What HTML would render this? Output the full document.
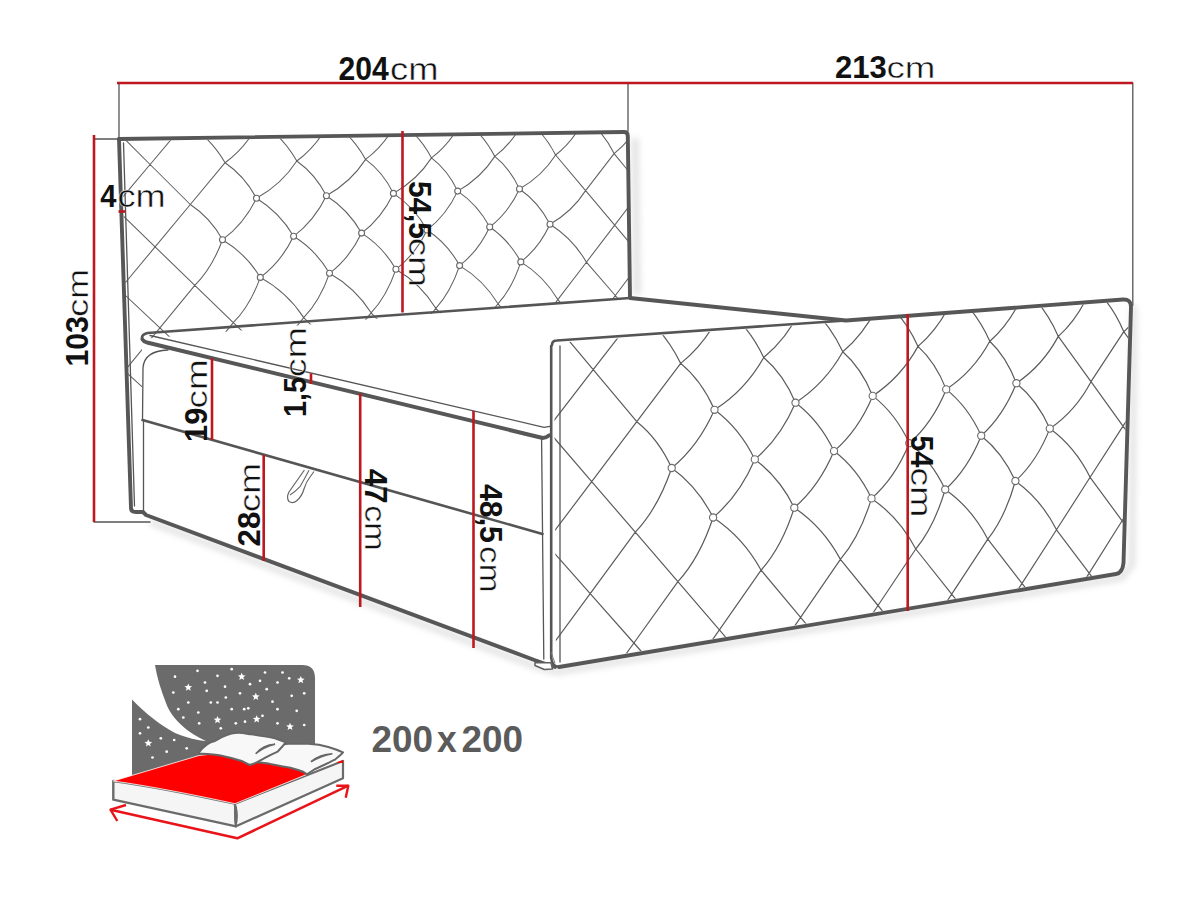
<!DOCTYPE html>
<html><head><meta charset="utf-8"><title>Bed dimensions</title>
<style>html,body{margin:0;padding:0;background:#fff;width:1200px;height:899px;overflow:hidden}svg{display:block}text{font-family:"Liberation Sans",sans-serif}</style>
</head><body>
<svg width="1200" height="899" viewBox="0 0 1200 899">
<defs>
<clipPath id="ch"><path d="M122 141L627 133L629 297L142 339L142 522L131 522Z"/></clipPath>
<clipPath id="cf"><path d="M554 343L846 322L1129 301L1121.5 571L556 665Z"/></clipPath>
<filter id="sh" x="-10%" y="-10%" width="120%" height="130%"><feGaussianBlur stdDeviation="3"/></filter>
</defs>
<rect width="1200" height="899" fill="#fff"/>
<g opacity="0.25" filter="url(#sh)" fill="none" stroke="#888" stroke-width="6">
<path d="M150 522L537 667L557 672L1121 578L1132 565L1134 305"/>
<path d="M635 138L637 294" stroke-width="7"/>
</g>
<g clip-path="url(#ch)"><path d="M28.1 124L71.8 166.3M28.1 124L65.9 80.4M34.4 210L77.6 250.6M34.4 210L71.8 166.3M40.6 294.5L83.3 333.3M40.6 294.5L77.6 250.6M46.7 377.3L88.9 414.5M46.7 377.3L83.3 333.3M65.9 80.4L108.7 123.1M65.9 80.4L103.2 37.3M71.8 166.3L114.1 207.2M71.8 166.3L108.7 123.1M77.6 250.6L119.4 289.8M77.6 250.6L114.1 207.2M83.3 333.3L124.6 370.9M83.3 333.3L119.4 289.8M88.9 414.5L129.7 450.5M88.9 414.5L124.6 370.9M108.7 123.1L150.1 164.5M108.7 123.1L145.1 80.5M114.1 207.2L155.1 246.9M114.1 207.2L150.1 164.5M119.4 289.8L159.9 327.8M119.4 289.8L155.1 246.9M124.6 370.9L164.7 407.3M124.6 370.9L159.9 327.8M145.1 80.5L185.7 122.2M145.1 80.5L181 38.4M150.1 164.5L190.3 204.5M150.1 164.5L185.7 122.2M155.1 246.9L194.8 285.3M155.1 246.9L190.3 204.5M159.9 327.8L199.2 364.7M159.9 327.8L194.8 285.3M164.7 407.3L203.6 442.7M164.7 407.3L199.2 364.7M185.7 122.2Q210.3 137.4 225.1 162.7M185.7 122.2L220.8 80.5M190.3 204.5Q210.4 217.7 222.5 239.7M190.3 204.5L225.1 162.7M194.8 285.3L233.3 322.6M194.8 285.3Q212.1 268.2 222.5 239.7M199.2 364.7L237.4 400.5M199.2 364.7L233.3 322.6M220.8 80.5L259.4 121.4M220.8 80.5L255.5 39.4M225.1 162.7Q244.7 176 256.5 198.3M225.1 162.7Q246.5 147.2 259.4 121.4M222.5 239.7Q246.1 253.8 260.3 277.4M222.5 239.7Q243.8 224.1 256.5 198.3M233.3 322.6L270.7 358.8M233.3 322.6Q250.2 305.7 260.3 277.4M237.4 400.5L274.3 435.2M237.4 400.5L270.7 358.8M259.4 121.4Q282.8 136.3 296.8 161M259.4 121.4L293.3 80.6M256.5 198.3Q279.7 212.5 293.6 236.3M256.5 198.3Q281.7 184.3 296.8 161M260.3 277.4Q287.4 292.5 303.7 317.6M260.3 277.4Q281.1 262 293.6 236.3M270.7 358.8L307 393.9M270.7 358.8L303.7 317.6M293.3 80.6L330 120.6M293.3 80.6L326.8 40.3M296.8 161Q315.3 174.1 326.4 195.8M296.8 161Q317.5 145.9 330 120.6M293.6 236.3Q316 250.2 329.5 273.3M293.6 236.3Q314.1 221.1 326.4 195.8M303.7 317.6L339.2 353.1M303.7 317.6Q319.8 301 329.5 273.3M307 393.9L342.2 428M307 393.9L339.2 353.1M330 120.6Q352.2 135.2 365.6 159.4M330 120.6L362.7 80.7M326.4 195.8Q348.4 209.8 361.6 233.1M326.4 195.8Q350.9 182.1 365.6 159.4M329.5 273.3Q355.5 288.1 371.1 312.8M329.5 273.3Q349.6 258.2 361.6 233.1M339.2 353.1L373.8 387.6M339.2 353.1L371.1 312.8M362.7 80.7L397.6 119.9M362.7 80.7L395.1 41.3M365.6 159.4Q383 172.2 393.4 193.4M365.6 159.4Q385.6 144.6 397.6 119.9M361.6 233.1Q383 246.7 395.9 269.3M361.6 233.1Q381.5 218.2 393.4 193.4M371.1 312.8L405 347.7M371.1 312.8Q386.6 296.5 395.9 269.3M373.8 387.6L407.3 421.1M373.8 387.6L405 347.7M397.6 119.9Q418.8 134.1 431.5 157.9M397.6 119.9L429.3 80.8M393.4 193.4Q414.4 207.1 427 230M393.4 193.4Q417.2 180.1 431.5 157.9M395.9 269.3Q420.8 283.9 435.8 308.3M395.9 269.3Q415.3 254.6 427 230M405 347.7L437.9 381.6M405 347.7L435.8 308.3M429.3 80.8L462.5 119.1M429.3 80.8L460.6 42.1M431.5 157.9Q447.9 170.4 457.7 191.1M431.5 157.9Q450.9 143.4 462.5 119.1M427 230Q447.4 243.3 459.6 265.6M427 230Q446.2 215.4 457.7 191.1M435.8 308.3L468.1 342.5M435.8 308.3Q450.7 292.2 459.6 265.6M437.9 381.6L469.9 414.5M437.9 381.6L468.1 342.5M462.5 119.1Q482.7 133.1 494.8 156.4M462.5 119.1L493.2 80.8M457.7 191.1Q477.7 204.6 489.7 227M457.7 191.1Q480.9 178.1 494.8 156.4M459.6 265.6Q483.6 279.9 498 303.8M459.6 265.6Q478.4 251.1 489.7 227M468.1 342.5L499.5 375.8M468.1 342.5L498 303.8M493.2 80.8L524.8 118.4M493.2 80.8L523.5 43M494.8 156.4Q510.2 168.6 519.5 189M494.8 156.4Q513.6 142.2 524.8 118.4M489.7 227Q509.1 240.1 520.8 261.9M489.7 227Q508.3 212.8 519.5 189M498 303.8L528.8 337.5M498 303.8Q512.3 288.1 520.8 261.9M499.5 375.8L530.1 408.1M499.5 375.8L528.8 337.5M524.8 118.4Q544.1 132.2 555.6 155M524.8 118.4L554.5 80.9M519.5 189Q538.6 202.2 550 224.2M519.5 189Q542.1 176.2 555.6 155M520.8 261.9Q543.9 276.1 557.8 299.6M520.8 261.9Q539.1 247.8 550 224.2M528.8 337.5L558.8 370.2M528.8 337.5L557.8 299.6M554.5 80.9L584.7 117.8M554.5 80.9L583.9 43.8M555.6 155L585.6 190.6M555.6 155Q573.8 141 584.7 117.8M550 224.2Q572.7 238.4 586.4 262.2M550 224.2Q572.2 211.6 585.6 190.6M557.8 299.6L587.2 332.6M557.8 299.6L586.4 262.2M558.8 370.2L588 402M558.8 370.2L587.2 332.6M584.7 117.8Q603.1 131.2 614.1 153.6M584.7 117.8L613.5 81M585.6 190.6L614.7 225.1M585.6 190.6L614.1 153.6M586.4 262.2L615.3 295.5M586.4 262.2L614.7 225.1M587.2 332.6L615.8 364.8M587.2 332.6L615.3 295.5M613.5 81L642.3 117.1M613.5 81L641.9 44.6M614.1 153.6L642.7 188.5M614.1 153.6Q631.7 139.9 642.3 117.1M614.7 225.1L643 258.8M614.7 225.1L642.7 188.5M615.3 295.5L643.4 328M615.3 295.5L643 258.8M615.8 364.8L643.7 396.1M615.8 364.8L643.4 328M642.3 117.1L670.4 152.3M642.3 117.1L670.2 81M642.7 188.5L670.5 222.5M642.7 188.5L670.4 152.3M643 258.8L670.6 291.6M643 258.8L670.5 222.5M643.4 328L670.8 359.6M643.4 328L670.6 291.6M670.2 81L697.7 116.5M670.2 81L697.8 45.3M670.4 152.3L697.7 186.6M670.4 152.3L697.7 116.5M670.5 222.5L697.6 255.6M670.5 222.5L697.7 186.6M670.6 291.6L697.5 323.5M670.6 291.6L697.6 255.6M670.8 359.6L697.5 390.4M670.8 359.6L697.5 323.5M697.7 116.5L724.5 151.1M697.7 116.5L724.8 81.1M697.7 186.6L724.3 220M697.7 186.6L724.5 151.1M697.6 255.6L724 287.8M697.6 255.6L724.3 220M697.5 323.5L723.7 354.6M697.5 323.5L724 287.8" fill="none" stroke="#606060" stroke-width="1.05"/></g>
<g clip-path="url(#cf)"><path d="M454 321.6L501.1 376.3M454 321.6L502.8 261.6M452.3 438L499.4 491.2M452.3 438L501.1 376.3M450.5 554.6L497.8 606.4M450.5 554.6L499.4 491.2M448.8 671.4L496.1 721.7M448.8 671.4L497.8 606.4M447.1 788.5L494.4 837.3M447.1 788.5L496.1 721.7M502.8 261.6L548.6 316.4M502.8 261.6L550.2 203.3M501.1 376.3L547 429.6M501.1 376.3L548.6 316.4M499.4 491.2L545.4 543.1M499.4 491.2L547 429.6M497.8 606.4L543.8 656.8M497.8 606.4L545.4 543.1M496.1 721.7L542.2 770.8M496.1 721.7L543.8 656.8M548.6 316.4L593.2 369.7M548.6 316.4L594.8 258M547 429.6L591.7 481.6M547 429.6L593.2 369.7M545.4 543.1L590.2 593.7M545.4 543.1L591.7 481.6M543.8 656.8L588.7 706M543.8 656.8L590.2 593.7M542.2 770.8L587.1 818.5M542.2 770.8L588.7 706M594.8 258L638.3 311.4M594.8 258L639.7 201.3M593.2 369.7L636.8 421.7M593.2 369.7L638.3 311.4M591.7 481.6L635.3 532.2M591.7 481.6L636.8 421.7M590.2 593.7L633.9 643M590.2 593.7L635.3 532.2M588.7 706L632.4 754M588.7 706L633.9 643M638.3 311.4Q664.8 330.9 680.7 363.4M638.3 311.4L682.1 254.6M636.8 421.7Q658.6 439.1 671.7 468M636.8 421.7L680.7 363.4M635.3 532.2L677.9 581.7M635.3 532.2Q658 508.2 671.7 468M633.9 643L676.4 691.1M633.9 643L677.9 581.7M632.4 754L675 800.7M632.4 754L676.4 691.1M682.1 254.6L723.4 306.7M682.1 254.6L724.8 199.3M680.7 363.4Q701.8 380.8 714.5 409.8M680.7 363.4Q707.4 342.1 723.4 306.7M671.7 468Q697.6 486.6 713.1 517.5M671.7 468Q698.4 446.2 714.5 409.8M677.9 581.7L719.4 629.9M677.9 581.7Q699.9 557.6 713.1 517.5M676.4 691.1L718 738M676.4 691.1L719.4 629.9M723.4 306.7Q748.6 325.7 763.7 357.5M723.4 306.7L765 251.4M714.5 409.8Q739.7 428.4 754.8 459.4M714.5 409.8Q745.3 390.2 763.7 357.5M713.1 517.5Q743.1 537.3 761.1 570.2M713.1 517.5Q739.2 495.7 754.8 459.4M719.4 629.9L759.8 676.9M719.4 629.9L761.1 570.2M718 738L758.5 783.8M718 738L759.8 676.9M765 251.4L804.4 302.2M765 251.4L805.6 197.5M763.7 357.5Q783.6 374.4 795.5 402.7M763.7 357.5Q789.1 336.7 804.4 302.2M754.8 459.4Q779.5 477.5 794.3 507.7M754.8 459.4Q780.3 438.1 795.5 402.7M761.1 570.2L800.6 617.4M761.1 570.2Q781.9 546.8 794.3 507.7M759.8 676.9L799.4 722.9M759.8 676.9L800.6 617.4M804.4 302.2Q828.4 320.8 842.8 351.8M804.4 302.2L844 248.3M795.5 402.7Q819.6 420.8 834 451.1M795.5 402.7Q825 383.6 842.8 351.8M794.3 507.7Q823.1 527.1 840.4 559.4M794.3 507.7Q819.1 486.5 834 451.1M800.6 617.4L839.2 663.5M800.6 617.4L840.4 559.4M799.4 722.9L838 767.7M799.4 722.9L839.2 663.5M844 248.3L881.4 297.9M844 248.3L882.6 195.8M842.8 351.8Q861.5 368.3 872.7 395.9M842.8 351.8Q866.9 331.6 881.4 297.9M834 451.1Q857.4 468.8 871.5 498.4M834 451.1Q858.2 430.4 872.7 395.9M840.4 559.4L878 605.5M840.4 559.4Q859.9 536.5 871.5 498.4M839.2 663.5L876.8 708.4M839.2 663.5L878 605.5M881.4 297.9Q904.3 316.1 918 346.4M881.4 297.9L919.1 245.4M872.7 395.9Q895.6 413.6 909.3 443.2M872.7 395.9Q901 377.3 918 346.4M871.5 498.4Q899.2 517.4 915.8 549M871.5 498.4Q895.2 477.7 909.3 443.2M878 605.5L914.7 650.6M878 605.5L915.8 549M876.8 708.4L913.6 752.4M876.8 708.4L914.7 650.6M919.1 245.4L954.9 293.9M919.1 245.4L955.9 194.1M918 346.4Q935.7 362.5 946.2 389.4M918 346.4Q941.1 326.7 954.9 293.9M909.3 443.2Q931.7 460.6 945.2 489.5M909.3 443.2Q932.4 423 946.2 389.4M915.8 549L951.7 594.2M915.8 549Q934.2 526.7 945.2 489.5M914.7 650.6L950.6 694.7M914.7 650.6L951.7 594.2M954.9 293.9Q976.7 311.6 989.8 341.3M954.9 293.9L990.8 242.6M946.2 389.4Q968.1 406.8 981.2 435.7M946.2 389.4Q973.5 371.4 989.8 341.3M945.2 489.5Q971.8 508.1 987.8 539.2M945.2 489.5Q967.7 469.4 981.2 435.7M951.7 594.2L986.8 638.4M951.7 594.2L987.8 539.2M950.6 694.7L985.8 737.8M950.6 694.7L986.8 638.4M990.8 242.6L1025 290M990.8 242.6L1025.9 192.5M989.8 341.3Q1006.4 357 1016.4 383.2M989.8 341.3Q1011.8 322 1025 290M981.2 435.7Q1002.6 452.7 1015.4 481M981.2 435.7Q1003.2 416 1016.4 383.2M987.8 539.2L1022 583.4M987.8 539.2Q1005.1 517.4 1015.4 481M986.8 638.4L1021.1 681.6M986.8 638.4L1022 583.4M1025 290Q1045.8 307.4 1058.3 336.4M1025 290L1059.3 239.9M1016.4 383.2Q1037.3 400.2 1049.8 428.6M1016.4 383.2Q1042.6 365.6 1058.3 336.4M1015.4 481Q1041.1 499.3 1056.5 529.8M1015.4 481Q1036.9 461.4 1049.8 428.6M1022 583.4L1055.5 626.7M1022 583.4L1056.5 529.8M1021.1 681.6L1054.6 723.8M1021.1 681.6L1055.5 626.7M1059.3 239.9L1091.9 286.3M1059.3 239.9L1092.8 191M1058.3 336.4L1091 381.7M1058.3 336.4Q1079.3 317.6 1091.9 286.3M1049.8 428.6Q1075 446.9 1090.1 477.3M1049.8 428.6Q1075.6 411 1091 381.7M1056.5 529.8L1089.2 573.1M1056.5 529.8L1090.1 477.3M1055.5 626.7L1088.3 669M1055.5 626.7L1089.2 573.1M1091.9 286.3Q1111.8 303.3 1123.8 331.7M1091.9 286.3L1124.7 237.3M1091 381.7L1123 426.1M1091 381.7L1123.8 331.7M1090.1 477.3L1122.1 520.8M1090.1 477.3L1123 426.1M1089.2 573.1L1121.2 615.5M1089.2 573.1L1122.1 520.8M1088.3 669L1120.4 710.5M1088.3 669L1121.2 615.5M1124.7 237.3L1155.9 282.7M1124.7 237.3L1156.7 189.5M1123.8 331.7L1155.1 376.1M1123.8 331.7Q1143.9 313.3 1155.9 282.7M1123 426.1L1154.3 469.6M1123 426.1L1155.1 376.1M1122.1 520.8L1153.4 563.3M1122.1 520.8L1154.3 469.6M1121.2 615.5L1152.6 657.1M1121.2 615.5L1153.4 563.3M1155.9 282.7L1186.5 327.2M1155.9 282.7L1187.3 234.9M1155.1 376.1L1185.7 419.6M1155.1 376.1L1186.5 327.2M1154.3 469.6L1184.9 512.2M1154.3 469.6L1185.7 419.6M1153.4 563.3L1184.1 604.9M1153.4 563.3L1184.9 512.2M1152.6 657.1L1183.3 697.7M1152.6 657.1L1184.1 604.9M1187.3 234.9L1217.2 279.3M1187.3 234.9L1217.9 188.1M1186.5 327.2L1216.4 370.7M1186.5 327.2L1217.2 279.3M1185.7 419.6L1215.6 462.2M1185.7 419.6L1216.4 370.7M1184.9 512.2L1214.9 553.8M1184.9 512.2L1215.6 462.2M1184.1 604.9L1214.1 645.6M1184.1 604.9L1214.9 553.8M1217.2 279.3L1246.4 322.9M1217.2 279.3L1247.2 232.6M1216.4 370.7L1245.7 413.3M1216.4 370.7L1246.4 322.9M1215.6 462.2L1245 503.9M1215.6 462.2L1245.7 413.3M1214.9 553.8L1244.3 594.7M1214.9 553.8L1245 503.9M1214.1 645.6L1243.5 685.5M1214.1 645.6L1244.3 594.7" fill="none" stroke="#5c5c5c" stroke-width="1.2"/></g>
<g fill="#fff" stroke="#6a6a6a" stroke-width="1.1"><circle cx="519.5" cy="189" r="3.0"/><circle cx="361.6" cy="233.1" r="3.0"/><circle cx="393.4" cy="193.4" r="3.0"/><circle cx="459.6" cy="265.6" r="3.0"/><circle cx="256.5" cy="198.3" r="3.0"/><circle cx="520.8" cy="261.9" r="3.0"/><circle cx="326.4" cy="195.8" r="3.0"/><circle cx="293.6" cy="236.3" r="3.0"/><circle cx="395.9" cy="269.3" r="3.0"/><circle cx="260.3" cy="277.4" r="3.0"/><circle cx="550" cy="224.2" r="3.0"/><circle cx="222.5" cy="239.7" r="3.0"/><circle cx="329.5" cy="273.3" r="3.0"/><circle cx="427" cy="230" r="3.0"/><circle cx="457.7" cy="191.1" r="3.0"/><circle cx="489.7" cy="227" r="3.0"/><circle cx="1016.4" cy="383.2" r="3.6"/><circle cx="834" cy="451.1" r="3.6"/><circle cx="872.7" cy="395.9" r="3.6"/><circle cx="945.2" cy="489.5" r="3.6"/><circle cx="714.5" cy="409.8" r="3.6"/><circle cx="1015.4" cy="481" r="3.6"/><circle cx="795.5" cy="402.7" r="3.6"/><circle cx="754.8" cy="459.4" r="3.6"/><circle cx="871.5" cy="498.4" r="3.6"/><circle cx="713.1" cy="517.5" r="3.6"/><circle cx="1049.8" cy="428.6" r="3.6"/><circle cx="671.7" cy="468" r="3.6"/><circle cx="794.3" cy="507.7" r="3.6"/><circle cx="909.3" cy="443.2" r="3.6"/><circle cx="946.2" cy="389.4" r="3.6"/><circle cx="981.2" cy="435.7" r="3.6"/></g>
<g fill="none" stroke="#555" stroke-width="1.3" stroke-linecap="round"><path d="M119 83L119 139"/><path d="M94 139L119 139"/><path d="M628 83L628 131"/><path d="M1132.8 83L1132.8 305.5"/><path d="M94 522L150 522"/><path d="M123.5 143L134.5 506"/><path d="M142.5 420L143 368Q144 351 168 350"/><path d="M143.5 420L143.5 512"/><path d="M150 335.5L544 427.3L550 426.3"/><path d="M541.6 440L543.8 659"/><path d="M560 346L560 662"/></g>
<g fill="none" stroke="#555" stroke-width="2.6" stroke-linecap="round" stroke-linejoin="round"><path d="M560 667Q552 667 551.2 658L551.2 346"/><path d="M552 345Q552 340.5 557 340.5L846 320.5"/><path d="M630 298L147.5 333Q141.5 334.5 142 338.5Q142.8 341.3 147 342.5"/><path d="M142.5 420L542.5 534"/></g>
<g fill="none" stroke="#575757" stroke-width="3.9" stroke-linecap="round" stroke-linejoin="round"><path d="M119 139L624 132Q627.7 132 627.8 136L630 298L846 320.5L1123 299.5Q1131 299 1131 307L1123.5 563Q1122.5 573 1116 574L559 667"/><path d="M119 139L131 508Q131 512 136 512L143 512L146 515L537 661"/><path d="M142.5 339.5Q143.5 341.5 147 342.5L542.7 438Q546 438 549.3 435.3"/><path d="M537 661L555 667"/></g>
<path d="M535 662.8L551 662.8L552.5 669L544.4 669.5L535 665.5Z" fill="#fff" stroke="#606060" stroke-width="1.5" stroke-linejoin="round"/>
<path d="M551 652L555 663.3" fill="none" stroke="#777" stroke-width="1"/>
<path d="M304.4 470L289 492Q286 498 289 501.5Q293 504 297 500.5Q302 496 304 489Q306 482 310 477L314 471.5" fill="none" stroke="#666" stroke-width="1.2"/>
<path d="M309 470.3Q305 478 300 486.7Q295 492 290 495" fill="none" stroke="#666" stroke-width="1.1"/>
<g fill="none" stroke="#bd1820" stroke-width="2.6"><path d="M117 83L1133 83"/><path d="M94 135L94 522"/><path d="M118.5 211.5L125.5 211.5"/><path d="M402.5 131L402.5 312.5"/><path d="M212 358L212 440"/><path d="M311 373.5L311 384"/><path d="M263.7 455L263.7 561"/><path d="M360.2 393.5L360.2 607"/><path d="M473.5 411L473.5 648"/><path d="M907.7 314L907.7 611"/></g>
<g transform="translate(339.5 79.5)" fill="#111" font-family="'Liberation Sans', sans-serif"><text transform="translate(-1.05 0) scale(0.9270 1)" font-size="32.47" font-weight="bold">204</text><text transform="translate(50.47 0) scale(1.1845 1)" font-size="30.67" stroke="#fff" stroke-width="0.45">cm</text></g>
<g transform="translate(836 78)" fill="#111" font-family="'Liberation Sans', sans-serif"><text transform="translate(-1.08 0) scale(0.9764 1)" font-size="31.75" font-weight="bold">213</text><text transform="translate(50.46 0) scale(1.2352 1)" font-size="29.74" stroke="#fff" stroke-width="0.45">cm</text></g>
<g transform="translate(100.7 207.3)" fill="#111" font-family="'Liberation Sans', sans-serif"><text transform="translate(-0.44 0) scale(0.9168 1)" font-size="31.75" font-weight="bold">4</text><text transform="translate(16.78 0) scale(1.1720 1)" font-size="30.86" stroke="#fff" stroke-width="0.45">cm</text></g>
<g transform="translate(88.3 364.7) rotate(-90)" fill="#111" font-family="'Liberation Sans', sans-serif"><text transform="translate(-1.90 0) scale(0.9516 1)" font-size="31.75" font-weight="bold">103</text><text transform="translate(47.89 0) scale(1.2078 1)" font-size="29.74" stroke="#fff" stroke-width="0.45">cm</text></g>
<g transform="translate(206.9 440) rotate(-90)" fill="#111" font-family="'Liberation Sans', sans-serif"><text transform="translate(-1.95 0) scale(0.9771 1)" font-size="31.60" font-weight="bold">19</text><text transform="translate(31.56 0) scale(1.2125 1)" font-size="30.30" stroke="#fff" stroke-width="0.45">cm</text></g>
<g transform="translate(305.6 415.2) rotate(-90)" fill="#111" font-family="'Liberation Sans', sans-serif"><text transform="translate(-1.81 0) scale(0.9431 1)" font-size="30.45" font-weight="bold">1,5</text><text transform="translate(37.92 0) scale(1.2448 1)" font-size="30.30" stroke="#fff" stroke-width="0.45">cm</text></g>
<g transform="translate(259.7 545.3) rotate(-90)" fill="#111" font-family="'Liberation Sans', sans-serif"><text transform="translate(-1.09 0) scale(0.9817 1)" font-size="31.75" font-weight="bold">28</text><text transform="translate(33.04 0) scale(1.2232 1)" font-size="30.30" stroke="#fff" stroke-width="0.45">cm</text></g>
<g transform="translate(408.8 181.8) rotate(90)" fill="#111" font-family="'Liberation Sans', sans-serif"><text transform="translate(-0.92 0) scale(0.9600 1)" font-size="31.02" font-weight="bold">54,5</text><text transform="translate(56.05 0) scale(1.2179 1)" font-size="30.30" stroke="#fff" stroke-width="0.45">cm</text></g>
<g transform="translate(365.1 469.2) rotate(90)" fill="#111" font-family="'Liberation Sans', sans-serif"><text transform="translate(-0.47 0) scale(0.9739 1)" font-size="32.18" font-weight="bold">47</text><text transform="translate(35.97 0) scale(1.1263 1)" font-size="30.30" stroke="#fff" stroke-width="0.45">cm</text></g>
<g transform="translate(479.9 484.4) rotate(90)" fill="#111" font-family="'Liberation Sans', sans-serif"><text transform="translate(-0.46 0) scale(0.9481 1)" font-size="32.03" font-weight="bold">48,5</text><text transform="translate(61.64 0) scale(1.1505 1)" font-size="30.30" stroke="#fff" stroke-width="0.45">cm</text></g>
<g transform="translate(911.4 436.5) rotate(90)" fill="#111" font-family="'Liberation Sans', sans-serif"><text transform="translate(-0.88 0) scale(0.8918 1)" font-size="31.89" font-weight="bold">54</text><text transform="translate(30.93 0) scale(1.2367 1)" font-size="30.30" stroke="#fff" stroke-width="0.45">cm</text></g>
<g font-family="'Liberation Sans', sans-serif" font-weight="bold" fill="#5b5b5b"><text transform="translate(371.5 751.8) scale(0.985 1)" font-size="37.5">200</text><text transform="translate(436.95 751.8) scale(0.98 1)" font-size="36.2">x</text><text transform="translate(461.4 751.8) scale(0.985 1)" font-size="37.5">200</text></g>
<g><path d="M155 665L302 665Q315 665 315 678L315 745L200 760L132 778L132 699.5C145 713 160 725 175 733C187 738 198 740.5 206 741C190 734 172 720 166 703C161 690 157 678 155 665Z" fill="#6b6b6b"/><g fill="#fff"><polygon points="241.7,672.7 242.8,675.2 245.5,675.5 243.4,677.3 244.1,679.9 241.7,678.5 239.3,679.9 240,677.3 237.9,675.5 240.6,675.2"/><polygon points="188.3,683.5 189.4,686 192.1,686.3 190,688.1 190.7,690.7 188.3,689.3 185.9,690.7 186.6,688.1 184.5,686.3 187.2,686"/><polygon points="300.8,676 301.9,678.5 304.6,678.8 302.5,680.6 303.2,683.2 300.8,681.8 298.4,683.2 299.1,680.6 297,678.8 299.7,678.5"/><polygon points="255.8,692.7 256.9,695.2 259.6,695.5 257.5,697.3 258.2,699.9 255.8,698.5 253.4,699.9 254.1,697.3 252,695.5 254.7,695.2"/><polygon points="217.5,716 218.6,718.5 221.3,718.8 219.2,720.6 219.9,723.2 217.5,721.8 215.1,723.2 215.8,720.6 213.7,718.8 216.4,718.5"/><polygon points="256.7,715.2 257.8,717.7 260.5,718 258.4,719.8 259.1,722.4 256.7,721 254.3,722.4 255,719.8 252.9,718 255.6,717.7"/><polygon points="290,722.7 291.1,725.2 293.8,725.5 291.7,727.3 292.4,729.9 290,728.5 287.6,729.9 288.3,727.3 286.2,725.5 288.9,725.2"/><polygon points="148.3,739.3 149.4,741.8 152.1,742.1 150,743.9 150.7,746.5 148.3,745.1 145.9,746.5 146.6,743.9 144.5,742.1 147.2,741.8"/><circle cx="175" cy="676.7" r="1.35"/><circle cx="197.5" cy="670.8" r="1.35"/><circle cx="205" cy="682.5" r="1.35"/><circle cx="217.5" cy="675.8" r="1.35"/><circle cx="231.7" cy="669.2" r="1.35"/><circle cx="265" cy="672.5" r="1.35"/><circle cx="282.5" cy="672.5" r="1.35"/><circle cx="260" cy="680.8" r="1.35"/><circle cx="250" cy="684.2" r="1.35"/><circle cx="277.5" cy="682.5" r="1.35"/><circle cx="289.2" cy="678.3" r="1.35"/><circle cx="206.7" cy="690.8" r="1.35"/><circle cx="225" cy="686.7" r="1.35"/><circle cx="240" cy="693.3" r="1.35"/><circle cx="266.7" cy="689.2" r="1.35"/><circle cx="291.7" cy="695.8" r="1.35"/><circle cx="304.2" cy="693.3" r="1.35"/><circle cx="173.3" cy="692.5" r="1.35"/><circle cx="188.3" cy="702.5" r="1.35"/><circle cx="210.8" cy="702.5" r="1.35"/><circle cx="217.5" cy="702.5" r="1.35"/><circle cx="225.8" cy="697.5" r="1.35"/><circle cx="272.5" cy="701.7" r="1.35"/><circle cx="178.3" cy="709.2" r="1.35"/><circle cx="198.3" cy="712.5" r="1.35"/><circle cx="231.7" cy="709.2" r="1.35"/><circle cx="244.2" cy="709.2" r="1.35"/><circle cx="248.3" cy="708.3" r="1.35"/><circle cx="277.5" cy="709.2" r="1.35"/><circle cx="296.7" cy="710.8" r="1.35"/><circle cx="183.3" cy="717.5" r="1.35"/><circle cx="199.2" cy="723.3" r="1.35"/><circle cx="235.8" cy="723.3" r="1.35"/><circle cx="245" cy="721.7" r="1.35"/><circle cx="277.5" cy="723.3" r="1.35"/><circle cx="304.2" cy="725" r="1.35"/><circle cx="220.8" cy="728.3" r="1.35"/><circle cx="262.5" cy="715.8" r="1.35"/><circle cx="140" cy="719.2" r="1.35"/><circle cx="148.3" cy="727.5" r="1.35"/><circle cx="140" cy="733.3" r="1.35"/><circle cx="160.8" cy="738.3" r="1.35"/><circle cx="174.2" cy="740" r="1.35"/><circle cx="166.7" cy="751.7" r="1.35"/><circle cx="152.5" cy="757.5" r="1.35"/><circle cx="186.7" cy="748.3" r="1.35"/></g><path d="M113.3 781C150 786 200 796 235 803.7L236 826.3L113.3 799.7Z" fill="#f5f5f5" stroke="#6b6b6b" stroke-width="2.4" stroke-linejoin="round"/><path d="M235 803.7L343 761L343 778.3L236 826.3Z" fill="#f5f5f5" stroke="#6b6b6b" stroke-width="2.2" stroke-linejoin="round"/><path d="M113.3 781L199 755.5L230 752L260 758L300 760L335 760L307 774.3L235 803.7C200 796 150 786 113.3 781Z" fill="#f00" stroke="#fff" stroke-width="0.8"/><path d="M336 762.5L343 760L343 763Z" fill="#f00"/><path d="M236 806Q238.5 816 236 826Q233.5 816 236 806Z" fill="#6b6b6b" stroke="#6b6b6b" stroke-width="1.2"/><path d="M257.7 761.5C262 755 265 752 269.7 750.3C276 746 282 744 288.3 743.7L308.3 743.7C315 744 322 745 328.3 747C335 749 340 751 343 752.3C341 755 338 757 335 759.7C326 764 320 767 315 769L307 774.3C304 772 302 771 299 770.3C292 768 287 767 281.7 766.3C272 764 265 763 257.7 762.3Z" fill="#f8f8f8" stroke="#666" stroke-width="2" stroke-linejoin="round"/><path d="M199 752.5C203 747 209 742 215 741C222 737 228 733 235 733C242 732 247 734 251 734.3C262 736 270 737 275 738.3L285.7 742.3C283 746 280 749 277.7 751.7C270 755 265 758 261.7 759.7C258 762 256 763 253.7 763.7L249.7 765C246 763 244 762 241.7 761C235 759 228 757 221.7 755.7C212 754 205 754 199 753.7Z" fill="#f8f8f8" stroke="#666" stroke-width="2" stroke-linejoin="round"/><path d="M255.7 753.7Q263 745 275 744.3Q264 747 255.7 753.7Z" fill="#666" stroke="#666" stroke-width="1.6"/><path d="M311 761.7Q320 754 332.3 753.7Q321 756 311 761.7Z" fill="#666" stroke="#666" stroke-width="1.6"/><path d="M110.5 809.7L237.3 838.3L348.3 785.7" fill="none" stroke="#e8141a" stroke-width="2.6" stroke-linejoin="round"/><path d="M126 805L110.5 809.7L117.3 821" fill="none" stroke="#e8141a" stroke-width="2.4" stroke-linejoin="round"/><path d="M336.3 785.7L348.3 785.7L345.7 797.7" fill="none" stroke="#e8141a" stroke-width="2.4" stroke-linejoin="round"/></g>
</svg>
</body></html>
